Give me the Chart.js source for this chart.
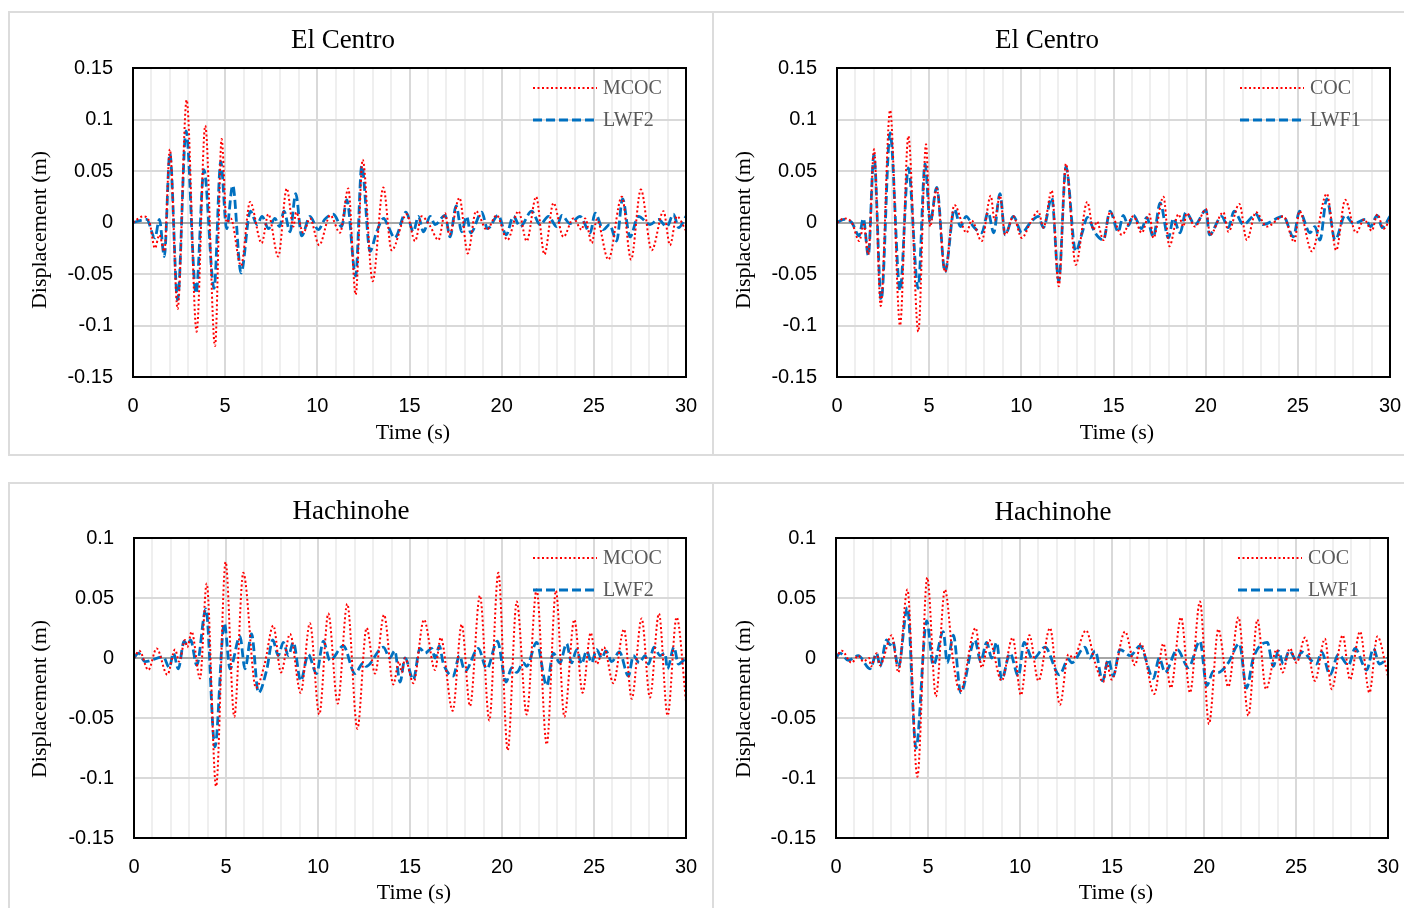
<!DOCTYPE html>
<html>
<head>
<meta charset="utf-8">
<title>Displacement time histories</title>
<script src="https://cdn.jsdelivr.net/npm/chart.js@4.4.0/dist/chart.umd.min.js"></script>
<style>
  body { margin: 0; background: #fff; width: 1404px; height: 908px; overflow: hidden; position: relative; }
  .frame { position: absolute; box-sizing: border-box; border: 2px solid #dcdcdc; }
  .box { position: absolute; }
</style>
</head>
<body>
<div class="frame" style="left:8px;top:11px;width:706px;height:445px"></div>
<div class="frame" style="left:712px;top:11px;width:700px;height:445px"></div>
<div class="frame" style="left:8px;top:482px;width:706px;height:440px"></div>
<div class="frame" style="left:712px;top:482px;width:700px;height:440px"></div>

<div class="box" style="left:9px;top:12px;width:703px;height:443px"><canvas id="c1"></canvas></div>
<div class="box" style="left:712px;top:12px;width:692px;height:443px"><canvas id="c2"></canvas></div>
<div class="box" style="left:9px;top:483px;width:703px;height:425px"><canvas id="c3"></canvas></div>
<div class="box" style="left:712px;top:483px;width:692px;height:425px"><canvas id="c4"></canvas></div>

<script>
// time (s), displacement (m) at their peaks and troughs
const elCentroMCOC = [[0,0],[0.56,0.006],[0.9,0],[1.19,-0.025],[1.43,-0.012],[1.7,-0.028],[2.0,0.071],[2.42,-0.084],[2.91,0.119],
  [3.45,-0.106],[3.92,0.094],[4.45,-0.12],[4.81,0.081],[5.08,0],[5.3,0.004],[5.86,-0.042],[6.35,0.02],[6.98,-0.02],[7.34,0.008],
  [7.88,-0.033],[8.34,0.033],[8.7,-0.004],[8.85,0.01],[9.24,-0.01],[9.6,0.004],[10.1,-0.022],[10.7,0.007],[11.23,-0.01],
  [11.68,0.033],[12.08,-0.07],[12.46,0.061],[13.0,-0.057],[13.58,0.034],[14.03,-0.027],[14.85,0.008],[15.3,-0.018],[15.66,0.006],
  [16.1,-0.003],[16.57,-0.017],[16.93,0.009],[17.16,-0.012],[17.71,0.024],[18.16,-0.03],[18.61,0.011],[19.19,-0.007],[19.73,0.007],
  [20.31,-0.017],[20.91,0.011],[21.36,-0.018],[21.87,0.025],[22.32,-0.031],[22.81,0.019],[23.35,-0.014],[23.89,0.004],[24.34,-0.007],
  [24.53,0.004],[24.89,-0.02],[25.16,0.003],[25.79,-0.036],[26.52,0.025],[27.02,-0.036],[27.55,0.032],[28.14,-0.027],[28.78,0.011],
  [29.13,-0.022],[29.5,0.006],[30,-0.008]];
const elCentroLWF2 = [[0,0],[0.74,0.003],[1.19,-0.015],[1.43,0.003],[1.7,-0.033],[2.0,0.067],[2.42,-0.075],[2.88,0.089],[3.42,-0.069],
  [3.85,0.051],[4.4,-0.064],[4.76,0.059],[5.08,-0.006],[5.41,0.036],[5.86,-0.049],[6.37,0.011],[6.73,-0.002],[7.0,0.006],[7.35,-0.006],
  [7.7,0.004],[7.95,-0.004],[8.19,0.011],[8.52,-0.009],[8.83,0.028],[9.15,-0.013],[9.6,0.006],[10.05,-0.007],[10.4,0.003],[10.87,0.008],
  [11.32,-0.004],[11.6,0.022],[12.08,-0.052],[12.41,0.055],[12.86,-0.028],[13.2,-0.01],[13.6,0.004],[13.85,-0.004],[14.2,-0.015],
  [14.81,0.01],[15.21,-0.009],[15.48,0.006],[15.76,-0.009],[16.12,0.006],[16.39,-0.002],[16.93,0.007],[17.2,-0.014],[17.53,0.016],
  [17.83,-0.009],[18.1,0.006],[18.32,-0.01],[18.92,0.01],[19.23,-0.006],[19.82,0.007],[20.24,-0.012],[20.64,0.006],[21.0,-0.004],
  [21.63,0.011],[22.08,-0.002],[22.54,0.006],[22.99,-0.004],[23.26,0.007],[23.71,-0.001],[24.25,0.006],[24.8,-0.01],[25.07,0.009],
  [25.52,-0.007],[25.85,-0.002],[26.24,-0.018],[26.56,0.023],[26.96,-0.014],[27.42,0.006],[28.05,-0.002],[28.5,0.003],[28.96,-0.004],
  [29.32,0.008],[29.6,-0.005],[30,0.006]];
const elCentroCOC = [[0,0],[0.38,0.004],[0.8,0],[1.21,-0.018],[1.45,-0.002],[1.7,-0.031],[2.01,0.071],[2.37,-0.081],[2.88,0.109],
  [3.42,-0.1],[3.87,0.084],[4.41,-0.106],[4.83,0.076],[5.05,-0.004],[5.41,0.033],[5.86,-0.048],[6.37,0.017],[7.03,-0.01],[7.3,0.002],
  [7.85,-0.018],[8.34,0.026],[8.55,0.002],[8.84,0.026],[9.12,-0.012],[9.57,0.006],[10.02,-0.015],[10.5,0],[10.92,0.011],[11.2,-0.005],
  [11.65,0.031],[12.03,-0.062],[12.42,0.057],[12.95,-0.041],[13.58,0.02],[13.91,-0.007],[14.1,0.001],[14.45,-0.017],[14.81,0.01],
  [15.45,-0.012],[16.08,0.006],[16.53,-0.01],[16.95,0.008],[17.16,-0.015],[17.71,0.025],[18.03,-0.023],[18.52,0.008],[18.79,-0.004],
  [18.97,0.009],[19.42,-0.004],[20.02,0.013],[20.24,-0.012],[20.96,0.01],[21.23,-0.009],[21.83,0.018],[22.23,-0.017],[22.73,0.01],
  [23.31,-0.004],[24.22,0.006],[24.81,-0.019],[25.09,0.011],[25.76,-0.028],[26.57,0.028],[27.08,-0.027],[27.57,0.022],[28.16,-0.01],
  [28.6,0.003],[29.01,-0.008],[29.32,0.008],[29.65,-0.006],[30,0.003]];
const elCentroLWF1 = [[0,0],[0.38,0.003],[0.8,0],[1.2,-0.013],[1.43,0.004],[1.7,-0.032],[2.0,0.066],[2.4,-0.075],[2.88,0.087],
  [3.42,-0.066],[3.87,0.053],[4.4,-0.064],[4.78,0.057],[5.05,0],[5.41,0.034],[5.86,-0.048],[6.37,0.013],[6.7,-0.004],[7.0,0.006],
  [7.4,-0.004],[7.85,-0.01],[8.2,0.01],[8.5,-0.01],[8.84,0.028],[9.12,-0.012],[9.57,0.006],[10.02,-0.01],[10.5,0],[10.92,0.006],
  [11.2,-0.005],[11.65,0.024],[12.03,-0.057],[12.42,0.054],[12.95,-0.028],[13.3,-0.01],[13.58,0.005],[14.0,-0.01],[14.45,-0.017],
  [14.81,0.011],[15.26,-0.009],[15.53,0.007],[15.8,-0.003],[16.08,0.007],[16.53,-0.006],[16.8,0.005],[17.16,-0.014],[17.53,0.019],
  [17.98,-0.015],[18.25,0.004],[18.61,-0.01],[18.93,0.01],[19.42,-0.002],[20.02,0.012],[20.2,-0.012],[20.87,0.006],[21.23,-0.005],
  [21.54,0.011],[22.05,-0.002],[22.73,0.008],[23.1,-0.002],[24.22,0.006],[24.76,-0.014],[25.09,0.011],[25.66,-0.01],[25.93,-0.004],
  [26.2,-0.017],[26.57,0.023],[27.02,-0.017],[27.57,0.007],[28.02,-0.001],[28.68,0.003],[28.95,-0.004],[29.3,0.007],[29.58,-0.005],
  [30,0.006]];
const hachinoheMCOC = [[0,0],[0.29,0.006],[0.78,-0.01],[1.23,0.008],[1.81,-0.014],[2.23,0.007],[2.46,-0.003],[2.77,0.015],[2.9,0.009],
  [3.13,0.022],[3.59,-0.017],[3.95,0.062],[4.46,-0.107],[4.98,0.08],[5.45,-0.049],[5.94,0.071],[6.63,-0.025],[7.1,-0.005],[7.57,0.027],
  [7.99,-0.012],[8.48,0.02],[9.06,-0.029],[9.56,0.029],[10.07,-0.047],[10.56,0.037],[11.07,-0.038],[11.59,0.045],[12.14,-0.059],
  [12.64,0.025],[13.1,-0.013],[13.59,0.036],[14.09,-0.022],[14.4,-0.003],[14.55,-0.012],[14.73,0],[15.18,-0.021],[15.76,0.032],
  [16.36,-0.01],[16.67,0.017],[17.32,-0.044],[17.81,0.028],[18.26,-0.04],[18.8,0.052],[19.31,-0.052],[19.8,0.071],[20.31,-0.077],
  [20.8,0.047],[21.34,-0.047],[21.88,0.057],[22.43,-0.072],[22.93,0.056],[23.39,-0.049],[23.93,0.032],[24.38,-0.029],[24.82,0.021],
  [25.15,-0.005],[25.54,0.009],[26.05,-0.021],[26.63,0.024],[27.05,-0.034],[27.59,0.033],[28.04,-0.033],[28.53,0.037],[29.0,-0.048],
  [29.49,0.034],[30,-0.036]];
const hachinoheLWF2 = [[0,0],[0.24,0.004],[0.6,-0.003],[1.59,0.001],[1.92,-0.008],[2.14,0.004],[2.41,-0.009],[2.72,0.014],[2.9,0.011],
  [3.08,0.015],[3.41,-0.006],[3.91,0.041],[4.4,-0.074],[4.91,0.029],[5.22,-0.009],[5.76,0.018],[6.03,-0.009],[6.39,0.02],[6.76,-0.029],
  [7.21,-0.01],[7.54,0.015],[7.84,0.002],[8.11,0.013],[8.39,0.002],[8.66,0.013],[9.06,-0.019],[9.47,0.003],[9.92,-0.013],[10.29,0.014],
  [10.65,-0.002],[11.38,0.01],[12.01,-0.013],[12.46,-0.004],[12.61,-0.007],[13.55,0.009],[13.9,0],[14.17,0.006],[14.46,-0.02],
  [14.73,0],[15.18,-0.018],[15.54,0.008],[15.82,0.004],[16.18,0.008],[16.36,0],[16.6,0.01],[16.8,-0.004],[17.35,-0.015],[17.68,0.002],
  [17.99,-0.011],[18.71,0.008],[19.17,-0.009],[19.75,0.014],[20.22,-0.02],[20.53,-0.008],[20.8,-0.012],[21.16,-0.004],[21.34,-0.007],
  [21.88,0.013],[22.43,-0.023],[22.79,0.004],[23.15,-0.004],[23.51,0.012],[23.78,-0.004],[24.06,0.007],[24.33,-0.005],[24.6,0.006],
  [24.87,-0.004],[25.14,0.007],[25.42,0],[25.65,0.006],[25.96,-0.003],[26.38,0.005],[26.87,-0.015],[27.14,0.002],[27.46,-0.004],
  [27.78,0.002],[27.96,-0.005],[28.26,0.009],[28.59,0.002],[28.86,0.004],[28.99,-0.009],[29.35,0.009],[29.58,-0.005],[30,0]];
const hachinoheCOC = [[0,0],[0.31,0.006],[0.85,-0.004],[1.21,0.002],[1.49,-0.003],[1.8,0],[1.9,-0.007],[2.21,0.004],[2.39,-0.006],
  [3.03,0.019],[3.39,-0.012],[3.88,0.057],[4.42,-0.099],[4.96,0.067],[5.43,-0.032],[5.92,0.057],[6.38,-0.004],[6.74,-0.028],
  [7.59,0.025],[7.92,-0.008],[8.33,0.015],[9.0,-0.019],[9.6,0.017],[10.05,-0.031],[10.51,0.019],[11.0,-0.019],[11.63,0.025],
  [12.17,-0.039],[12.63,0.003],[12.9,0],[13.59,0.023],[14.08,-0.004],[14.53,-0.02],[14.71,-0.004],[14.98,-0.018],[15.71,0.022],
  [16.25,-0.006],[16.56,0.012],[17.3,-0.03],[17.79,0.012],[18.2,-0.025],[18.75,0.034],[19.24,-0.029],[19.78,0.047],[20.27,-0.055],
  [20.78,0.024],[21.32,-0.024],[21.87,0.034],[22.41,-0.048],[22.9,0.032],[23.37,-0.026],[23.95,0.007],[24.27,-0.012],[24.67,0.008],
  [25.03,-0.004],[25.49,0.017],[26.03,-0.019],[26.57,0.016],[26.94,-0.026],[27.54,0.019],[27.93,-0.018],[28.48,0.022],[28.99,-0.029],
  [29.42,0.018],[30,-0.015]];
const hachinoheLWF1 = [[0,0],[0.22,0.004],[0.67,-0.002],[1.21,0.002],[1.85,-0.009],[2.21,0.004],[2.39,-0.007],[2.75,0.015],[2.93,0.011],
  [3.08,0.014],[3.39,-0.008],[3.88,0.042],[4.35,-0.075],[4.93,0.031],[5.29,-0.006],[5.83,0.022],[6.05,-0.004],[6.38,0.019],[6.78,-0.029],
  [7.55,0.015],[7.86,-0.003],[8.19,0.013],[8.46,0],[8.73,0.013],[9.0,-0.018],[9.46,0.004],[9.91,-0.015],[10.22,0.013],[10.69,-0.001],
  [11.36,0.009],[12.14,-0.014],[12.63,-0.001],[12.81,-0.004],[13.53,0.009],[13.8,0],[14.08,0.006],[14.49,-0.019],[14.8,-0.001],
  [15.07,-0.015],[15.43,0.007],[16.0,0.002],[16.52,0.01],[17.25,-0.017],[17.57,0],[17.88,-0.012],[18.55,0.007],[19.15,-0.008],
  [19.78,0.014],[20.15,-0.023],[20.51,-0.011],[20.78,-0.012],[21.32,-0.004],[21.92,0.012],[22.31,-0.025],[22.68,0],[23.44,0.013],
  [23.77,-0.007],[24.04,0.006],[24.31,-0.005],[24.64,0.006],[25.03,-0.002],[25.31,0.005],[26.12,-0.005],[26.39,0.005],[26.85,-0.014],
  [27.3,0.003],[27.85,-0.006],[28.21,0.008],[28.84,-0.01],[29.21,0.008],[29.53,-0.005],[30,0]];

const elCentroYRange = [-0.15, 0.15];
const hachinoheYRange = [-0.15, 0.1];
const timeRange = [0, 30];

// frame, titles and legend drawn on top of the plot
const panelDecor = {
  id: 'panelDecor',
  afterDatasetsDraw(chart, args, o) {
    const { ctx, chartArea: a } = chart;
    ctx.save();
    ctx.strokeStyle = '#000';
    ctx.lineWidth = 2;
    ctx.strokeRect(a.left, a.top, a.right - a.left, a.bottom - a.top);

    ctx.fillStyle = '#000';
    ctx.textAlign = 'center';
    ctx.textBaseline = 'middle';
    ctx.font = '27px "Liberation Serif"';
    ctx.fillText(o.title, o.titleX, o.titleY);

    ctx.font = '22px "Liberation Serif"';
    ctx.fillText('Time (s)', o.xTitle[0], o.xTitle[1]);
    ctx.save();
    ctx.translate(o.yTitle[0], o.yTitle[1]);
    ctx.rotate(-Math.PI / 2);
    ctx.fillText('Displacement (m)', 0, 0);
    ctx.restore();

    chart.data.datasets.forEach((ds, i) => {
      const y = o.legendY + i * 32;
      ctx.strokeStyle = ds.borderColor;
      ctx.lineWidth = ds.borderWidth;
      ctx.setLineDash(ds.borderDash);
      ctx.beginPath();
      ctx.moveTo(o.legendX, y);
      ctx.lineTo(o.legendX + 64, y);
      ctx.stroke();
      ctx.setLineDash([]);
      ctx.fillStyle = '#595959';
      ctx.font = '20px "Liberation Serif"';
      ctx.textAlign = 'left';
      ctx.fillText(ds.label, o.legendX + 70, y + 1);
    });
    ctx.restore();
  }
};

function makeChart(id, p) {
  const ctx = document.getElementById(id).getContext('2d');
  return new Chart(ctx, {
    type: 'line',
    data: {
      datasets: [
        {
          label: p.redLabel,
          data: p.red.map(([x, y]) => ({ x, y })),
          borderColor: '#ff0000',
          borderWidth: 2,
          borderDash: [2, 2.5]
        },
        {
          label: p.blueLabel,
          data: p.blue.map(([x, y]) => ({ x, y })),
          borderColor: '#0070c0',
          borderWidth: 2.8,
          borderDash: [9, 4]
        }
      ]
    },
    options: {
      responsive: true,
      maintainAspectRatio: false,
      animation: false,
      events: [],
      layout: { padding: { left: 0, top: p.top, right: p.right, bottom: 0 } },
      elements: {
        point: { radius: 0 },
        line: { tension: 0.4, cubicInterpolationMode: 'monotone', fill: false }
      },
      scales: {
        x: {
          type: 'linear',
          min: timeRange[0],
          max: timeRange[1],
          afterFit: s => { s.height = p.xAxisH; s.paddingLeft = 0; s.paddingRight = 0; },
          border: { display: false },
          grid: {
            drawTicks: false,
            color: c => (c.tick && c.tick.value % 5 === 0 ? '#d9d9d9' : '#efefef'),
            lineWidth: 2
          },
          ticks: {
            stepSize: 1,
            autoSkip: false,
            maxRotation: 0,
            padding: 17,
            color: '#000',
            font: { family: 'Liberation Sans', size: 20 },
            callback: v => (v % 5 === 0 ? String(v) : '')
          }
        },
        y: {
          min: p.yRange[0],
          max: p.yRange[1],
          afterFit: s => { s.width = p.left; },
          border: { display: false },
          grid: {
            drawTicks: false,
            color: c => (c.tick && Math.abs(c.tick.value) < 1e-9 ? '#a6a6a6' : '#d9d9d9'),
            lineWidth: 2
          },
          ticks: {
            stepSize: 0.05,
            padding: 20,
            color: '#000',
            font: { family: 'Liberation Sans', size: 20 },
            callback: v => String(+v.toFixed(2))
          }
        }
      },
      plugins: {
        legend: { display: false },
        tooltip: { enabled: false },
        panelDecor: p.decor
      }
    },
    plugins: [panelDecor]
  });
}

document.addEventListener('DOMContentLoaded', () => {
  makeChart('c1', {
    red: elCentroMCOC, blue: elCentroLWF2, redLabel: 'MCOC', blueLabel: 'LWF2',
    yRange: elCentroYRange, left: 124, top: 56, right: 26, xAxisH: 78,
    decor: { title: 'El Centro', titleX: 334, titleY: 29, legendX: 524, legendY: 76,
             xTitle: [404, 421], yTitle: [31, 218] }
  });
  makeChart('c2', {
    red: elCentroCOC, blue: elCentroLWF1, redLabel: 'COC', blueLabel: 'LWF1',
    yRange: elCentroYRange, left: 125, top: 56, right: 14, xAxisH: 78,
    decor: { title: 'El Centro', titleX: 335, titleY: 29, legendX: 528, legendY: 76,
             xTitle: [405, 421], yTitle: [32, 218] }
  });
  makeChart('c3', {
    red: hachinoheMCOC, blue: hachinoheLWF2, redLabel: 'MCOC', blueLabel: 'LWF2',
    yRange: hachinoheYRange, left: 125, top: 55, right: 26, xAxisH: 70,
    decor: { title: 'Hachinohe', titleX: 342, titleY: 29, legendX: 524, legendY: 75,
             xTitle: [405, 410], yTitle: [31, 216] }
  });
  makeChart('c4', {
    red: hachinoheCOC, blue: hachinoheLWF1, redLabel: 'COC', blueLabel: 'LWF1',
    yRange: hachinoheYRange, left: 124, top: 55, right: 16, xAxisH: 70,
    decor: { title: 'Hachinohe', titleX: 341, titleY: 30, legendX: 526, legendY: 75,
             xTitle: [404, 410], yTitle: [32, 216] }
  });
});
</script>
</body>
</html>
